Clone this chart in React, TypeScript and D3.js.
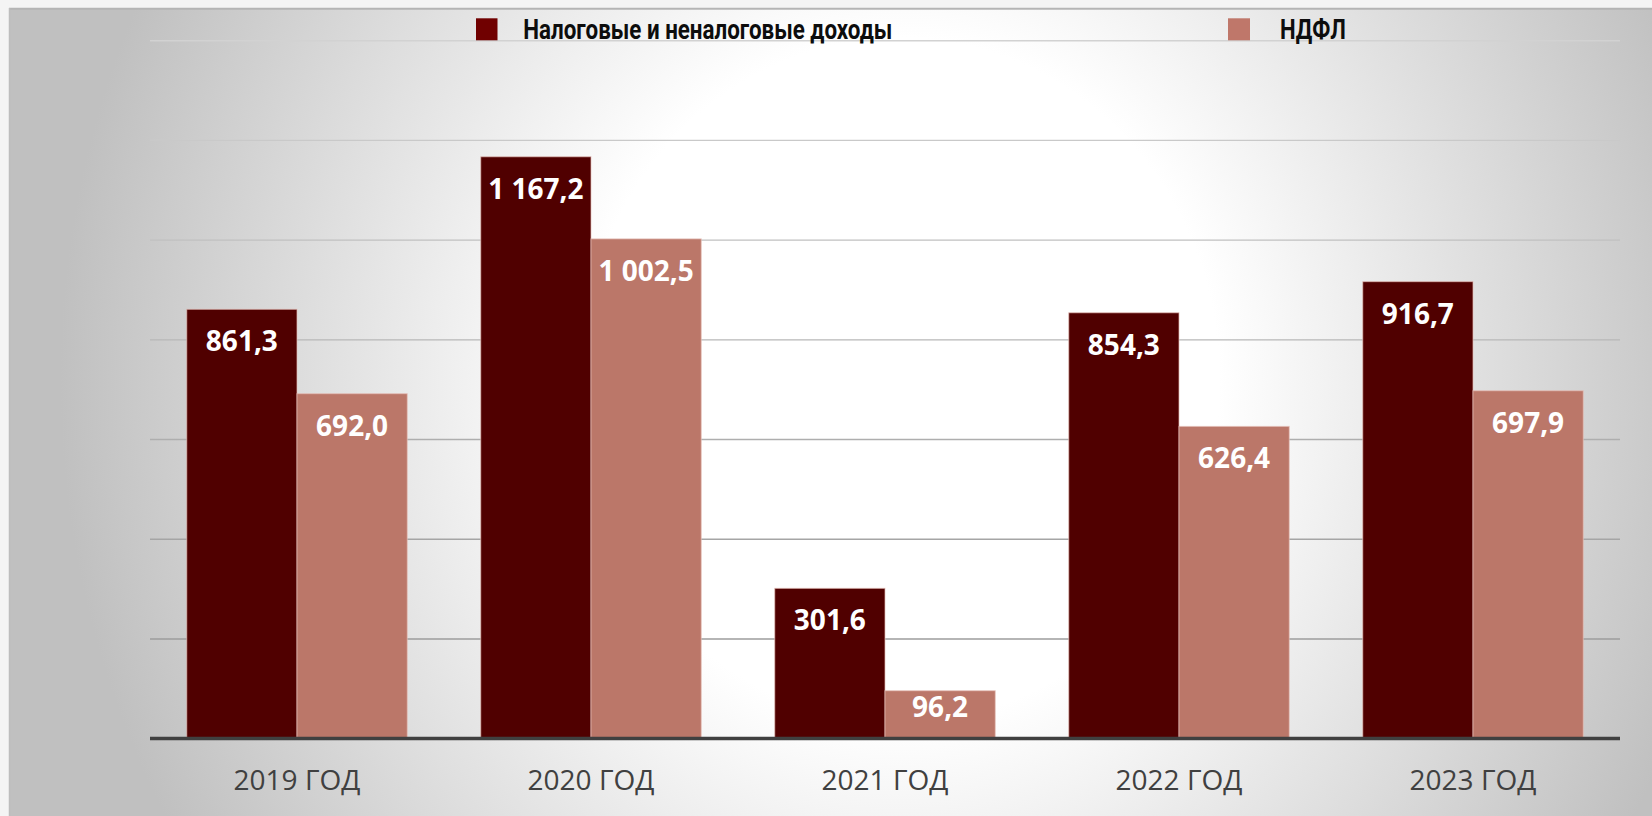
import React from "react";
import * as d3 from "d3";

const categories = ["2019 ГОД", "2020 ГОД", "2021 ГОД", "2022 ГОД", "2023 ГОД"];
const seriesNames = ["Налоговые и неналоговые доходы", "НДФЛ"];
const taxNonTax = [861.3, 1167.2, 301.6, 854.3, 916.7];
const ndfl = [692.0, 1002.5, 96.2, 626.4, 697.9];
const gridTicks = [200, 400, 600, 800, 1000, 1200, 1400];
const yMax = 1400;

const barColors = ["#500000", "#bb7769"];
const legendColors = ["#700000", "#bf776a"];

const W = 1652;
const H = 816;

const ruLocale = d3.formatLocale({
  decimal: ",",
  thousands: " ",
  grouping: [3],
  currency: ["", ""],
});
const fmt = ruLocale.format(",.1f");

export default function App() {
  const x0 = d3
    .scaleBand<string>()
    .domain(categories)
    .range([150, 1620])
    .paddingInner(0.25)
    .paddingOuter(0.125);
  const x1 = d3
    .scaleBand<number>()
    .domain([0, 1])
    .range([0, x0.bandwidth()]);
  const y = d3.scaleLinear().domain([0, yMax]).range([738.7, 40.7]);
  const series = [taxNonTax, ndfl];
  const gridColor = d3.interpolateRgb("#d2d2d2", "#9c9c9c");

  return (
    <svg
      width={W}
      height={H}
      style={{ position: "absolute", left: 0, top: 0, display: "block" }}
    >
      <defs>
        <radialGradient
          id="bg"
          gradientUnits="userSpaceOnUse"
          cx={0}
          cy={0}
          r={1}
          gradientTransform="translate(900,380) scale(840,900)"
        >
          <stop offset="0" stopColor="#ffffff" />
          <stop offset="0.38" stopColor="#ffffff" />
          <stop offset="1" stopColor="#c0c0c0" />
        </radialGradient>
      </defs>
      <rect x={0} y={0} width={W} height={H} fill="#f4f4f4" />
      <rect x={9} y={8} width={W - 9} height={H - 8} fill="url(#bg)" />
      <line x1={9} x2={W} y1={8.7} y2={8.7} stroke="#b4b4b4" strokeWidth={2} />
      <line x1={9.5} x2={9.5} y1={8} y2={H} stroke="#bdbdbd" strokeWidth={1.5} />

      {gridTicks.map((t, i) => (
        <line
          key={t}
          x1={150}
          x2={1620}
          y1={y(t)}
          y2={y(t)}
          stroke={gridColor((gridTicks.length - 1 - i) / (gridTicks.length - 1))}
          strokeWidth={1.4}
        />
      ))}

      {categories.map((c, ci) => (
        <g key={c} transform={`translate(${x0(c)},0)`}>
          {series.map((s, si) => {
            const v = s[ci];
            const top = y(v);
            const labelY = Math.min(top + 42, y(0) - 22);
            return (
              <g key={si}>
                <rect
                  x={x1(si)}
                  y={top}
                  width={x1.bandwidth()}
                  height={y(0) - top}
                  fill={barColors[si]}
                  stroke="#e6bfb8"
                  strokeOpacity={0.7}
                  strokeWidth={1}
                />
                <text
                  x={(x1(si) as number) + x1.bandwidth() / 2}
                  y={labelY}
                  textAnchor="middle"
                  fill="#ffffff"
                  fontFamily="'Open Sans', sans-serif"
                  fontWeight={700}
                  fontSize={28}
                >
                  {fmt(v)}
                </text>
              </g>
            );
          })}
          <text
            x={x0.bandwidth() / 2}
            y={790}
            textAnchor="middle"
            fill="#404040"
            fontFamily="'Open Sans', sans-serif"
            fontSize={28}
          >
            {c}
          </text>
        </g>
      ))}

      <line x1={150} x2={1620} y1={738.5} y2={738.5} stroke="#404040" strokeWidth={3.5} />

      <rect x={476} y={18.3} width={21.5} height={22} fill={legendColors[0]} />
      <text
        x={523.3}
        y={39.3}
        fill="#0d0d0d"
        fontFamily="Roboto, sans-serif"
        fontWeight={700}
        fontSize={28}
        textLength={369}
        lengthAdjust="spacingAndGlyphs"
      >
        {seriesNames[0]}
      </text>
      <rect x={1228} y={18.3} width={22} height={22} fill={legendColors[1]} />
      <text
        x={1280}
        y={39.3}
        fill="#0d0d0d"
        fontFamily="Roboto, sans-serif"
        fontWeight={700}
        fontSize={28}
        textLength={66}
        lengthAdjust="spacingAndGlyphs"
      >
        {seriesNames[1]}
      </text>
    </svg>
  );
}
